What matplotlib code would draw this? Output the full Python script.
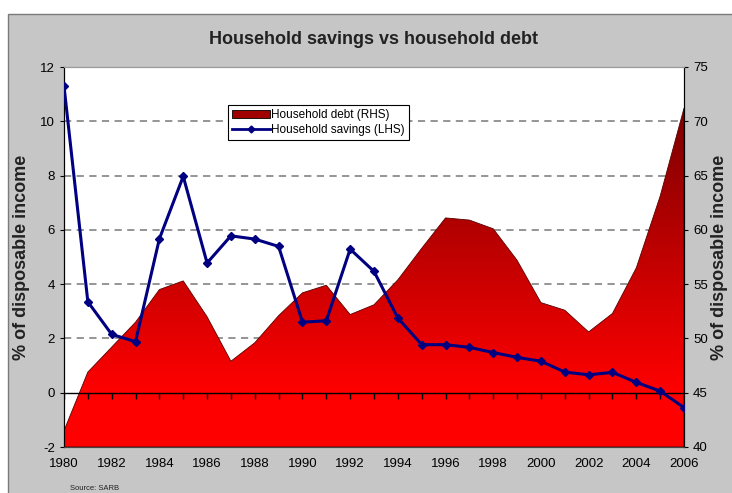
import numpy as np
import matplotlib
matplotlib.use("Agg")
import matplotlib.pyplot as plt
from matplotlib.colors import LinearSegmentedColormap, Normalize
from matplotlib.patches import Rectangle, Patch
from matplotlib.lines import Line2D

plt.rcParams['font.family'] = ['Liberation Sans', 'DejaVu Sans']

years = list(range(1980, 2007))
# household savings, % of disposable income (LHS)
savings = [11.3, 3.35, 2.15, 1.88, 5.67, 7.97, 4.78, 5.78, 5.66, 5.39,
           2.6, 2.65, 5.29, 4.47, 2.75, 1.77, 1.77, 1.67, 1.48, 1.3,
           1.16, 0.76, 0.66, 0.75, 0.38, 0.06, -0.55]
# household debt, % of disposable income (RHS)
debt = [41.5, 46.9, 49.2, 51.5, 54.5, 55.3, 52.0, 47.9, 49.6, 52.1,
        54.2, 54.9, 52.2, 53.1, 55.4, 58.3, 61.1, 60.9, 60.1, 57.2,
        53.3, 52.6, 50.6, 52.3, 56.5, 63.1, 71.2]

left_ticks = list(range(-2, 13, 2))
right_ticks = list(range(40, 76, 5))
year_labels = [str(y) for y in range(1980, 2007, 2)]

fig = plt.figure(figsize=(7.32, 4.93), dpi=100)
fig.patch.set_facecolor('white')
fig.patches.append(Rectangle((8 / 732, -0.01), 1.0, 1 - 14 / 493 + 0.01,
                             transform=fig.transFigure, facecolor='#c6c6c6',
                             edgecolor='#7a7a7a', linewidth=1.0, zorder=-5))

ax2 = fig.add_axes([64 / 732, 1 - 447 / 493, 620 / 732, 380 / 493])
ax = ax2.twinx()
# ax (left scale) on top for the savings line, ax2 (right scale) holds the area
ax.yaxis.tick_left()
ax.yaxis.set_label_position('left')
ax2.yaxis.tick_right()
ax2.yaxis.set_label_position('right')
ax.set_zorder(ax2.get_zorder() + 1)
ax.patch.set_visible(False)
ax2.patch.set_visible(True)
ax2.patch.set_facecolor('white')

# dashed grid under the area
for v in right_ticks[2:-1]:
    ax2.axhline(v, color='#8c8c8c', lw=1.3, ls=(0, (4, 3)), zorder=0)

poly = ax2.fill_between(years, debt, 40, facecolor='none',
                        edgecolor='#5a0000', lw=0.6, zorder=2)
cmap = LinearSegmentedColormap.from_list('redgrad', ['#ff0000', '#780000'])
grad = np.linspace(40, 75, 256).reshape(-1, 1)
im = ax2.imshow(grad, extent=[1980, 2006, 40, 75], origin='lower',
                aspect='auto', cmap=cmap, norm=Normalize(45, 72), zorder=1)
im.set_clip_path(poly.get_paths()[0], transform=ax2.transData)

ax2.set_xlim(1980, 2006)
ax2.set_ylim(40, 75)
ax2.set_yticks(right_ticks)
ax2.set_xticks(range(1980, 2007, 2))
ax2.set_xticklabels(year_labels)
ax2.tick_params(axis='y', labelsize=9.5, length=3, direction='out')
ax2.tick_params(axis='x', labelsize=9.5, length=0, pad=8)
ax2.set_ylabel('% of disposable income', fontsize=13, fontweight='bold',
               color='#222222', labelpad=2)

# zero line with year ticks
ax.axhline(0, color='black', lw=1.0, zorder=2)
ax.plot(years, [0] * len(years), ls='none', marker=3, markersize=4,
        color='black', zorder=2)

ax.plot(years, savings, color='#000080', lw=2.2, marker='D', markersize=4.2,
        zorder=3)
ax.set_xlim(1980, 2006)
ax.set_ylim(-2, 12)
ax.set_yticks(left_ticks)
ax.set_yticklabels([str(t) for t in left_ticks])
ax.tick_params(axis='y', labelsize=9.5, length=3, direction='out')
ax.set_ylabel('% of disposable income', fontsize=13, fontweight='bold',
              color='#222222', labelpad=7)

for a in (ax, ax2):
    a.spines['top'].set_color('#9a9a9a')
    a.spines['left'].set_color('black')
    a.spines['right'].set_color('black')
    a.spines['bottom'].set_color('#444444')

handles = [Patch(facecolor='#a00000', edgecolor='black', lw=0.6),
           Line2D([], [], color='#000080', lw=2, marker='D', markersize=3.5)]
leg = ax.legend(handles, ['Household debt (RHS)', 'Household savings (LHS)'],
                loc='upper left', bbox_to_anchor=(0.255, 0.915), fontsize=8.5,
                frameon=True, fancybox=False, framealpha=1, edgecolor='black',
                handlelength=3.2, borderpad=0.35, labelspacing=0.25,
                handletextpad=0.1)
leg.get_frame().set_linewidth(0.8)

fig.text(0.51, 1 - 40 / 493, 'Household savings vs household debt',
         ha='center', va='center', fontsize=13, fontweight='bold',
         color='#222222')
fig.text(70 / 732, 1 - 488 / 493, 'Source: SARB', fontsize=5.5,
         ha='left', va='center', color='#222222')

fig.savefig('out.png', dpi=100)
